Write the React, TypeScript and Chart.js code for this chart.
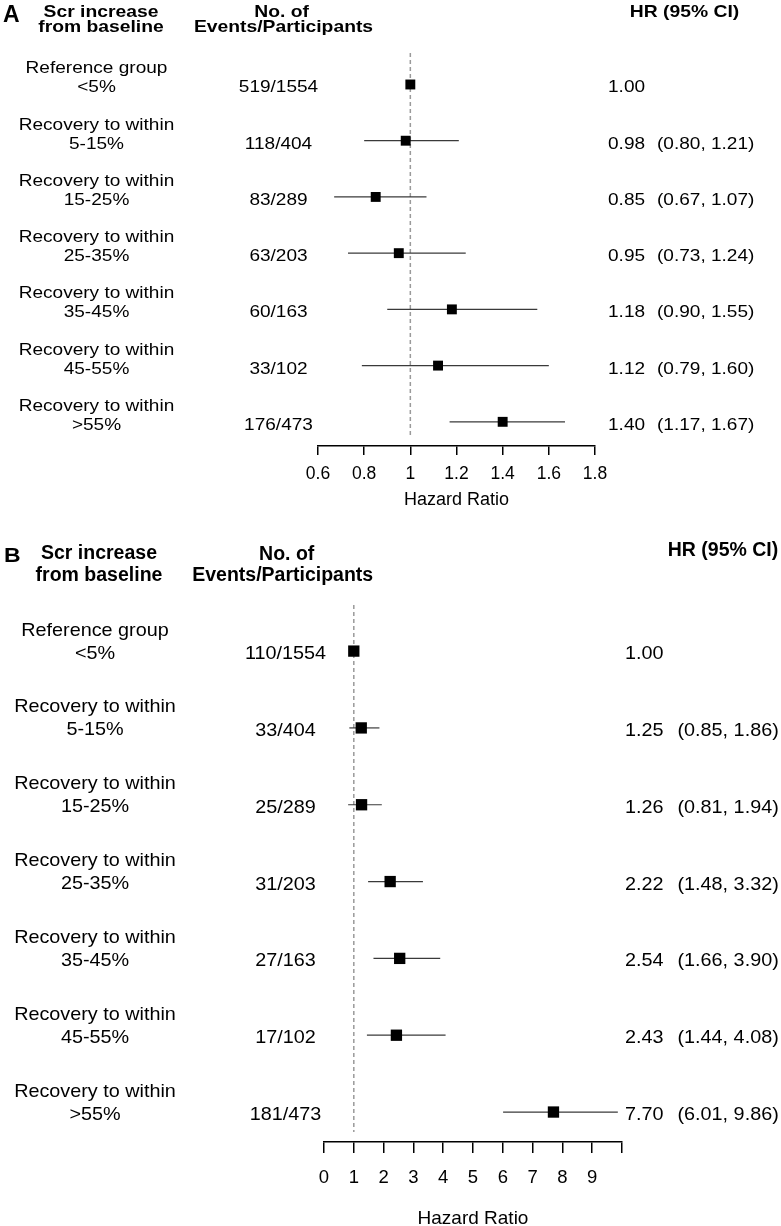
import React, { useEffect, useRef } from "react";
import { Chart, registerables } from "chart.js";

Chart.register(...registerables);

const FONT = "'Liberation Sans', Arial, Helvetica, sans-serif";

// ---------- data ----------
const GROUP_LINE1 = [
  "Reference group",
  "Recovery to within",
  "Recovery to within",
  "Recovery to within",
  "Recovery to within",
  "Recovery to within",
  "Recovery to within",
];
const GROUP_LINE2 = ["<5%", "5-15%", "15-25%", "25-35%", "35-45%", "45-55%", ">55%"];

const A_EVENTS = ["519/1554", "118/404", "83/289", "63/203", "60/163", "33/102", "176/473"];
const A_HR = [1.0, 0.98, 0.85, 0.95, 1.18, 1.12, 1.4];
const A_LO: (number | null)[] = [null, 0.8, 0.67, 0.73, 0.9, 0.79, 1.17];
const A_HI: (number | null)[] = [null, 1.21, 1.07, 1.24, 1.55, 1.6, 1.67];
const A_TICKS = [0.6, 0.8, 1, 1.2, 1.4, 1.6, 1.8];
const A_TICK_LABELS = ["0.6", "0.8", "1", "1.2", "1.4", "1.6", "1.8"];

const B_EVENTS = ["110/1554", "33/404", "25/289", "31/203", "27/163", "17/102", "181/473"];
const B_HR = [1.0, 1.25, 1.26, 2.22, 2.54, 2.43, 7.7];
const B_LO: (number | null)[] = [null, 0.85, 0.81, 1.48, 1.66, 1.44, 6.01];
const B_HI: (number | null)[] = [null, 1.86, 1.94, 3.32, 3.9, 4.08, 9.86];
const B_TICKS = [0, 1, 2, 3, 4, 5, 6, 7, 8, 9, 10];
const B_TICK_LABELS = ["0", "1", "2", "3", "4", "5", "6", "7", "8", "9", ""];

const REF_HR = 1;
const HEADER_GROUP = ["Scr increase", "from baseline"];
const HEADER_EVENTS = ["No. of", "Events/Participants"];
const HEADER_HR = "HR (95% CI)";
const AXIS_TITLE = "Hazard Ratio";

// ---------- layout ----------
type Panel = {
  letter: string;
  events: string[];
  hr: number[];
  lo: (number | null)[];
  hi: (number | null)[];
  ticks: number[];
  tickLabels: string[];
  xMin: number;
  xMax: number;
  top: number;
  height: number;
  padding: { left: number; right: number; top: number; bottom: number };
  axisHeight: number;
  yMin: number;
  yMax: number;
  tickLength: number;
  tickPadding: number;
  tickFont: number;
  titleFont: number;
  titleLineHeight: number;
  titlePad: number;
  dashBottomGap: number;
  radius: number;
  L: any;
};

const PANEL_A: Panel = {
  letter: "A",
  events: A_EVENTS,
  hr: A_HR,
  lo: A_LO,
  hi: A_HI,
  ticks: A_TICKS,
  tickLabels: A_TICK_LABELS,
  xMin: 0.6,
  xMax: 1.8,
  top: 0,
  height: 525,
  padding: { left: 318, right: 186, top: 53, bottom: 0 },
  axisHeight: 79,
  yMin: -0.56,
  yMax: 6.43,
  tickLength: 9,
  tickPadding: 9,
  tickFont: 17.5,
  titleFont: 18,
  titleLineHeight: 1.2,
  titlePad: 14,
  dashBottomGap: 9,
  radius: 7,
  L: {
    letter: { x: 3, y: 22, size: 23, sx: 1 },
    head: { size: 16.5, sx: 1.17 },
    headGroup: { x: 101, y1: 16.7, y2: 32.3 },
    headEvents: { x1: 281.7, x2: 283.5, y1: 16.7, y2: 32.3 },
    headHR: { x: 684.5, y: 17.3 },
    row: { size: 17, sx: 1.12 },
    label: { x: 96.5, d1: -11, d2: 8 },
    ev: { x: 278.5, d: 8 },
    hrx: 608,
    cix: 657,
  },
};

const PANEL_B: Panel = {
  letter: "B",
  events: B_EVENTS,
  hr: B_HR,
  lo: B_LO,
  hi: B_HI,
  ticks: B_TICKS,
  tickLabels: B_TICK_LABELS,
  xMin: 0,
  xMax: 10,
  top: 525,
  height: 701,
  padding: { left: 324, right: 159, top: 80, bottom: 0 },
  axisHeight: 84,
  yMin: -0.6,
  yMax: 6.39,
  tickLength: 11,
  tickPadding: 14,
  tickFont: 18.5,
  titleFont: 19,
  titleLineHeight: 0.8,
  titlePad: 0,
  dashBottomGap: 10,
  radius: 8,
  L: {
    letter: { x: 4, y: 37, size: 20, sx: 1.15 },
    head: { size: 19.5, sx: 1.0 },
    headGroup: { x: 99, y1: 34.3, y2: 56 },
    headEvents: { x1: 286.7, x2: 282.7, y1: 35, y2: 56 },
    headHR: { x: 723, y: 31 },
    row: { size: 18.5, sx: 1.07 },
    label: { x: 95, d1: -15.5, d2: 7.5 },
    ev: { x: 285.5, d: 8 },
    hrx: 625,
    cix: 677.5,
  },
};

function drawText(
  ctx: CanvasRenderingContext2D,
  text: string,
  x: number,
  y: number,
  size: number,
  bold: boolean,
  align: "left" | "center",
  sx: number
) {
  ctx.save();
  ctx.font = `${bold ? "bold " : ""}${size}px ${FONT}`;
  ctx.textBaseline = "alphabetic";
  ctx.textAlign = "left";
  ctx.fillStyle = "#000";
  const w = ctx.measureText(text).width * sx;
  const left = align === "center" ? x - w / 2 : x;
  ctx.translate(left, y);
  ctx.scale(sx, 1);
  ctx.fillText(text, 0, 0);
  ctx.restore();
}

function makeConfig(p: Panel): any {
  const datasets: any[] = [
    {
      type: "scatter",
      data: p.hr.map((v, i) => ({ x: v, y: i })),
      pointStyle: "rect",
      pointRadius: p.radius,
      pointHoverRadius: p.radius,
      pointBackgroundColor: "#000",
      pointBorderColor: "#000",
      pointBorderWidth: 0,
      showLine: false,
      order: 0,
    },
  ];
  p.hr.forEach((_, i) => {
    const lo = p.lo[i];
    const hi = p.hi[i];
    if (lo == null || hi == null) return;
    datasets.push({
      type: "scatter",
      data: [
        { x: lo, y: i },
        { x: hi, y: i },
      ],
      showLine: true,
      borderColor: "#3a3a3a",
      borderWidth: 1.2,
      pointRadius: 0,
      pointHoverRadius: 0,
      order: 1,
    });
  });

  const textPlugin = {
    id: "forestText" + p.letter,
    beforeDatasetsDraw(chart: any) {
      const { ctx, chartArea, scales } = chart;
      const x = scales.x.getPixelForValue(REF_HR);
      ctx.save();
      ctx.strokeStyle = "#9a9a9a";
      ctx.lineWidth = 1.5;
      ctx.setLineDash([4, 3]);
      ctx.beginPath();
      ctx.moveTo(x, chartArea.top);
      ctx.lineTo(x, chartArea.bottom - p.dashBottomGap);
      ctx.stroke();
      ctx.restore();
    },
    afterDraw(chart: any) {
      const ctx: CanvasRenderingContext2D = chart.ctx;
      const ys = chart.scales.y;
      const L = p.L;
      drawText(ctx, p.letter, L.letter.x, L.letter.y, L.letter.size, true, "left", L.letter.sx);
      drawText(ctx, HEADER_GROUP[0], L.headGroup.x, L.headGroup.y1, L.head.size, true, "center", L.head.sx);
      drawText(ctx, HEADER_GROUP[1], L.headGroup.x, L.headGroup.y2, L.head.size, true, "center", L.head.sx);
      drawText(ctx, HEADER_EVENTS[0], L.headEvents.x1, L.headEvents.y1, L.head.size, true, "center", L.head.sx);
      drawText(ctx, HEADER_EVENTS[1], L.headEvents.x2, L.headEvents.y2, L.head.size, true, "center", L.head.sx);
      drawText(ctx, HEADER_HR, L.headHR.x, L.headHR.y, L.head.size, true, "center", L.head.sx);
      p.hr.forEach((v, i) => {
        const y = ys.getPixelForValue(i);
        const s = L.row.size;
        const sx = L.row.sx;
        drawText(ctx, GROUP_LINE1[i], L.label.x, y + L.label.d1, s, false, "center", sx);
        drawText(ctx, GROUP_LINE2[i], L.label.x, y + L.label.d2, s, false, "center", sx);
        drawText(ctx, p.events[i], L.ev.x, y + L.ev.d, s, false, "center", sx);
        drawText(ctx, v.toFixed(2), L.hrx, y + L.ev.d, s, false, "left", sx);
        const lo = p.lo[i];
        const hi = p.hi[i];
        if (lo != null && hi != null) {
          drawText(ctx, `(${lo.toFixed(2)}, ${hi.toFixed(2)})`, L.cix, y + L.ev.d, s, false, "left", sx);
        }
      });
    },
  };

  return {
    type: "scatter",
    data: { datasets },
    plugins: [textPlugin],
    options: {
      animation: false,
      responsive: false,
      devicePixelRatio: 1,
      events: [],
      layout: { padding: p.padding },
      plugins: { legend: { display: false }, tooltip: { enabled: false } },
      scales: {
        x: {
          type: "linear",
          position: "bottom",
          min: p.xMin,
          max: p.xMax,
          afterBuildTicks: (s: any) => {
            s.ticks = p.ticks.map((v) => ({ value: v }));
          },
          afterFit: (s: any) => {
            s.height = p.axisHeight;
          },
          ticks: {
            autoSkip: false,
            maxRotation: 0,
            minRotation: 0,
            padding: p.tickPadding,
            color: "#000",
            font: { family: FONT, size: p.tickFont },
            callback: (value: number) => {
              const idx = p.ticks.findIndex((t) => Math.abs(t - value) < 1e-9);
              return idx >= 0 ? p.tickLabels[idx] : "";
            },
          },
          grid: {
            display: true,
            drawOnChartArea: false,
            drawTicks: true,
            tickLength: p.tickLength,
            color: "#000",
            lineWidth: 1.5,
          },
          border: { display: true, color: "#000", width: 1.5 },
          title: {
            display: true,
            text: AXIS_TITLE,
            color: "#000",
            font: { family: FONT, size: p.titleFont, lineHeight: p.titleLineHeight },
            padding: { top: 0, bottom: p.titlePad },
          },
        },
        y: {
          type: "linear",
          display: false,
          min: p.yMin,
          max: p.yMax,
          reverse: true,
        },
      },
    },
  };
}

function ForestPanel({ panel }: { panel: Panel }) {
  const ref = useRef<HTMLCanvasElement | null>(null);
  useEffect(() => {
    if (!ref.current) return;
    const chart = new Chart(ref.current, makeConfig(panel));
    return () => chart.destroy();
  }, [panel]);
  return (
    <canvas
      ref={ref}
      width={781}
      height={panel.height}
      style={{
        position: "absolute",
        left: 0,
        top: panel.top,
        width: 781,
        height: panel.height,
        display: "block",
      }}
    />
  );
}

export default function App() {
  return (
    <div
      style={{
        position: "fixed",
        left: 0,
        top: 0,
        width: 781,
        height: 1226,
        background: "#fff",
        overflow: "hidden",
      }}
    >
      <ForestPanel panel={PANEL_A} />
      <ForestPanel panel={PANEL_B} />
    </div>
  );
}
